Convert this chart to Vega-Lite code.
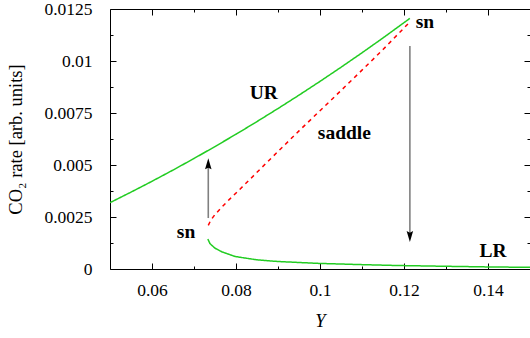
{
  "$schema": "https://vega.github.io/schema/vega-lite/v6.json",
  "width": 420,
  "height": 260,
  "autosize": "none",
  "padding": {"left": 110, "top": 9, "right": 0, "bottom": 69},
  "background": "white",
  "config": {
    "view": {"stroke": null},
    "axis": {
      "domainColor": "#000000",
      "tickColor": "#000000",
      "domainWidth": 1,
      "tickWidth": 1,
      "grid": false,
      "labelFlush": false,
      "labelOverlap": false
    }
  },
  "datasets": {
    "curves": [
      {"branch": "UR", "Y": 0.05, "rate": 0.00319},
      {"branch": "UR", "Y": 0.055, "rate": 0.003695},
      {"branch": "UR", "Y": 0.06, "rate": 0.004217},
      {"branch": "UR", "Y": 0.065, "rate": 0.004756},
      {"branch": "UR", "Y": 0.07, "rate": 0.005313},
      {"branch": "UR", "Y": 0.075, "rate": 0.005888},
      {"branch": "UR", "Y": 0.08, "rate": 0.006479},
      {"branch": "UR", "Y": 0.085, "rate": 0.007088},
      {"branch": "UR", "Y": 0.09, "rate": 0.007715},
      {"branch": "UR", "Y": 0.095, "rate": 0.008359},
      {"branch": "UR", "Y": 0.1, "rate": 0.00902},
      {"branch": "UR", "Y": 0.105, "rate": 0.009699},
      {"branch": "UR", "Y": 0.11, "rate": 0.010395},
      {"branch": "UR", "Y": 0.115, "rate": 0.011108},
      {"branch": "UR", "Y": 0.1214, "rate": 0.01205},
      {"branch": "saddle", "Y": 0.0734, "rate": 0.00210},
      {"branch": "saddle", "Y": 0.0740, "rate": 0.00235},
      {"branch": "saddle", "Y": 0.0750, "rate": 0.00262},
      {"branch": "saddle", "Y": 0.0765, "rate": 0.00295},
      {"branch": "saddle", "Y": 0.0785, "rate": 0.00336},
      {"branch": "saddle", "Y": 0.0810, "rate": 0.00385},
      {"branch": "saddle", "Y": 0.0850, "rate": 0.00465},
      {"branch": "saddle", "Y": 0.0900, "rate": 0.00565},
      {"branch": "saddle", "Y": 0.0950, "rate": 0.00664},
      {"branch": "saddle", "Y": 0.1000, "rate": 0.00761},
      {"branch": "saddle", "Y": 0.1050, "rate": 0.00858},
      {"branch": "saddle", "Y": 0.1100, "rate": 0.00956},
      {"branch": "saddle", "Y": 0.1150, "rate": 0.01055},
      {"branch": "saddle", "Y": 0.1214, "rate": 0.01188},
      {"branch": "LR", "Y": 0.0733, "rate": 0.00144},
      {"branch": "LR", "Y": 0.0738, "rate": 0.00122},
      {"branch": "LR", "Y": 0.075, "rate": 0.00100},
      {"branch": "LR", "Y": 0.0766, "rate": 0.00083},
      {"branch": "LR", "Y": 0.0798, "rate": 0.00060},
      {"branch": "LR", "Y": 0.085, "rate": 0.00044},
      {"branch": "LR", "Y": 0.09, "rate": 0.00036},
      {"branch": "LR", "Y": 0.0996, "rate": 0.00027},
      {"branch": "LR", "Y": 0.11, "rate": 0.00021},
      {"branch": "LR", "Y": 0.1179, "rate": 0.00017},
      {"branch": "LR", "Y": 0.13, "rate": 0.00013},
      {"branch": "LR", "Y": 0.14, "rate": 0.00010},
      {"branch": "LR", "Y": 0.15, "rate": 0.00008}
    ],
    "arrows": [
      {"Y": 0.0734, "from": 0.00245, "to": 0.0050},
      {"Y": 0.1214, "from": 0.01072, "to": 0.0016}
    ],
    "heads": [
      {"Y": 0.0734, "rate": 0.00503, "dir": "up"},
      {"Y": 0.1214, "rate": 0.00159, "dir": "down"}
    ],
    "labels": [
      {"label": "sn", "Y": 0.0681, "rate": 0.00149},
      {"label": "sn", "Y": 0.1250, "rate": 0.01157},
      {"label": "UR", "Y": 0.0866, "rate": 0.00817},
      {"label": "saddle", "Y": 0.1058, "rate": 0.00625},
      {"label": "LR", "Y": 0.1412, "rate": 0.00056}
    ]
  },
  "resolve": {"axis": {"x": "independent", "y": "independent"}},
  "layer": [
    {
      "data": {"name": "curves"},
      "mark": {"type": "line", "strokeWidth": 1.5, "clip": true},
      "encoding": {
        "x": {
          "field": "Y", "type": "quantitative",
          "scale": {"domain": [0.05, 0.15], "nice": false, "zero": false},
          "axis": {
            "orient": "bottom", "values": [0.06, 0.08, 0.1, 0.12, 0.14],
            "labelExpr": "toString(datum.value)", "tickSize": -6, "labelPadding": 18,
            "labelFont": "Liberation Serif", "labelFontSize": 17.5, "labelColor": "#000000",
            "title": "Y", "titleFont": "Liberation Serif", "titleFontSize": 18.5, "titleFontWeight": "normal",
            "titleFontStyle": "italic", "titleColor": "#000000", "titlePadding": 13
          }
        },
        "y": {
          "field": "rate", "type": "quantitative",
          "scale": {"domain": [0, 0.0125], "nice": false, "zero": false},
          "axis": {
            "orient": "left", "values": [0, 0.0025, 0.005, 0.0075, 0.01, 0.0125],
            "labelExpr": "toString(datum.value)", "tickSize": -6, "labelPadding": 24,
            "labelFont": "Liberation Serif", "labelFontSize": 17.5, "labelColor": "#000000",
            "title": "CO₂ rate [arb. units]", "titleFont": "Liberation Serif", "titleFontSize": 18.5,
            "titleFontWeight": "normal", "titleColor": "#000000", "titlePadding": 18
          }
        },
        "color": {
          "field": "branch", "type": "nominal",
          "scale": {"domain": ["UR", "saddle", "LR"], "range": ["#22cc22", "#ff0000", "#22cc22"]},
          "legend": null
        },
        "strokeDash": {
          "field": "branch", "type": "nominal",
          "scale": {"domain": ["UR", "saddle", "LR"], "range": [[1, 0], [4, 4], [1, 0]]},
          "legend": null
        },
        "detail": {"field": "branch"}
      }
    },
    {
      "data": {"name": "curves"},
      "mark": {"type": "point", "opacity": 0},
      "encoding": {
        "x": {
          "field": "Y", "type": "quantitative",
          "axis": {"orient": "bottom", "values": [0.07, 0.09, 0.11, 0.13], "labels": false, "domain": false, "tickSize": -3, "title": null}
        },
        "y": {
          "field": "rate", "type": "quantitative",
          "axis": {"orient": "left", "values": [0.00125, 0.00375, 0.00625, 0.00875, 0.01125], "labels": false, "domain": false, "tickSize": -3, "title": null}
        }
      }
    },
    {
      "data": {"name": "curves"},
      "mark": {"type": "point", "opacity": 0},
      "encoding": {
        "x": {
          "field": "Y", "type": "quantitative",
          "axis": {"orient": "top", "values": [0.06, 0.08, 0.1, 0.12, 0.14], "labels": false, "domain": true, "tickSize": -6, "title": null}
        },
        "y": {
          "field": "rate", "type": "quantitative",
          "axis": {"orient": "right", "values": [0, 0.0025, 0.005, 0.0075, 0.01, 0.0125], "labels": false, "domain": true, "tickSize": -6, "title": null}
        }
      }
    },
    {
      "data": {"name": "curves"},
      "mark": {"type": "point", "opacity": 0},
      "encoding": {
        "x": {
          "field": "Y", "type": "quantitative",
          "axis": {"orient": "top", "values": [0.07, 0.09, 0.11, 0.13], "labels": false, "domain": false, "tickSize": -3, "title": null}
        },
        "y": {
          "field": "rate", "type": "quantitative",
          "axis": {"orient": "right", "values": [0.00125, 0.00375, 0.00625, 0.00875, 0.01125], "labels": false, "domain": false, "tickSize": -3, "title": null}
        }
      }
    },
    {
      "data": {"name": "arrows"},
      "mark": {"type": "rule", "color": "#808080", "strokeWidth": 1.6},
      "encoding": {
        "x": {"field": "Y", "type": "quantitative", "axis": null},
        "y": {"field": "from", "type": "quantitative", "axis": null},
        "y2": {"field": "to"}
      }
    },
    {
      "data": {"name": "heads"},
      "mark": {"type": "point", "filled": true, "opacity": 1, "fill": "#000000", "size": 169, "stroke": null},
      "encoding": {
        "x": {"field": "Y", "type": "quantitative", "axis": null},
        "y": {"field": "rate", "type": "quantitative", "axis": null},
        "shape": {
          "field": "dir", "type": "nominal",
          "scale": {"domain": ["up", "down"], "range": ["M0,-0.95L0.5,0.75L0,0.5L-0.5,0.75Z", "M0,0.95L0.5,-0.75L0,-0.5L-0.5,-0.75Z"]},
          "legend": null
        }
      }
    },
    {
      "data": {"name": "labels"},
      "mark": {"type": "text", "font": "Liberation Serif", "fontWeight": "bold", "fontSize": 19.5, "align": "center", "baseline": "alphabetic", "color": "#000000"},
      "encoding": {
        "x": {"field": "Y", "type": "quantitative", "axis": null},
        "y": {"field": "rate", "type": "quantitative", "axis": null},
        "text": {"field": "label"}
      }
    }
  ]
}
